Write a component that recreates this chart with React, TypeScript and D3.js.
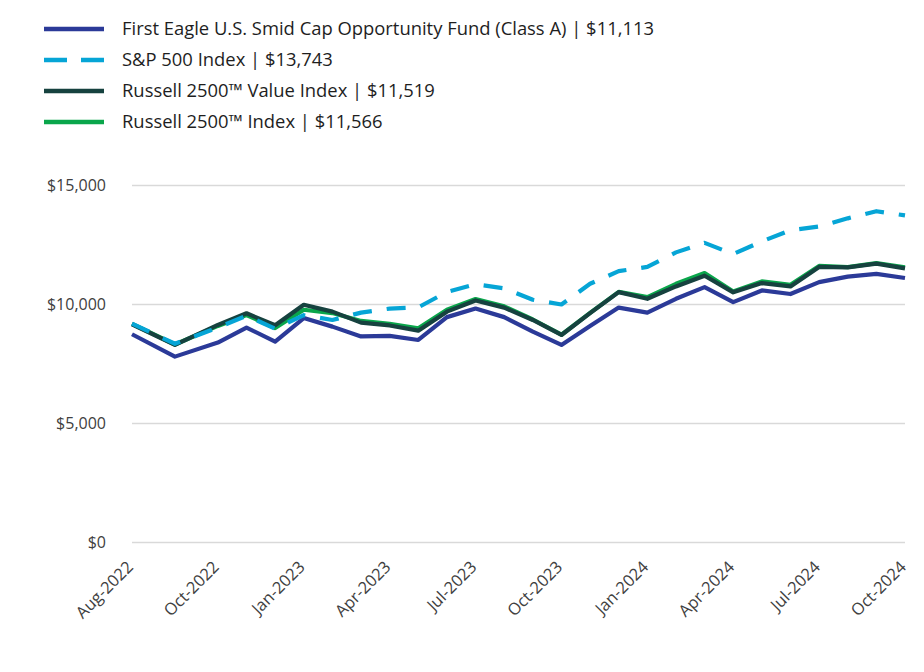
import React from "react";
import * as d3 from "d3";

const months = [
  "Aug-2022","Sep-2022","Oct-2022","Nov-2022","Dec-2022",
  "Jan-2023","Feb-2023","Mar-2023","Apr-2023","May-2023","Jun-2023","Jul-2023","Aug-2023","Sep-2023","Oct-2023","Nov-2023","Dec-2023",
  "Jan-2024","Feb-2024","Mar-2024","Apr-2024","May-2024","Jun-2024","Jul-2024","Aug-2024","Sep-2024","Oct-2024",
];
const tickLabels = ["Aug-2022","Oct-2022","Jan-2023","Apr-2023","Jul-2023","Oct-2023","Jan-2024","Apr-2024","Jul-2024","Oct-2024"];

const fund = [8750,7810,8400,9030,8440,9430,9070,8660,8680,8510,9470,9830,9470,8860,8300,9100,9870,9660,10240,10730,10100,10590,10440,10940,11170,11290,11113];
const sp500 = [9200,8350,9030,9530,8980,9550,9350,9660,9830,9880,10530,10850,10680,10200,10000,10870,11400,11580,12190,12590,12120,12650,13120,13280,13620,13920,13743];
const r2500v = [9170,8300,9140,9630,9130,9990,9700,9240,9120,8900,9700,10170,9870,9350,8720,9640,10520,10240,10760,11210,10510,10900,10760,11580,11560,11720,11519];
const r2500 = [9190,8320,9100,9560,9010,9780,9640,9310,9190,9000,9780,10230,9920,9370,8730,9650,10530,10310,10870,11320,10550,10970,10830,11620,11570,11740,11566];

const yTicks = [0, 5000, 10000, 15000];

const series = [
  { name: "First Eagle U.S. Smid Cap Opportunity Fund (Class A) | $11,113", values: fund, color: "#2B3A98", dash: null },
  { name: "S&P 500 Index | $13,743", values: sp500, color: "#06A5D6", dash: "19 15" },
  { name: "Russell 2500™ Value Index | $11,519", values: r2500v, color: "#16423F", dash: null },
  { name: "Russell 2500™ Index | $11,566", values: r2500, color: "#0AA64B", dash: null },
];

const W = 924, H = 672;
const left = 132, right = 905, top = 185.5, bottom = 542.5;

export default function App() {
  const tickIdx = tickLabels.map((t) => months.indexOf(t));
  const step = (right - left) / (tickIdx.length - 1);
  const x = d3.scaleLinear().domain(tickIdx).range(tickIdx.map((_, i) => left + i * step));
  const y = d3.scaleLinear().domain([0, 15000]).range([bottom, top]);
  const line = d3.line<number>().x((_, i) => x(i)).y((d) => y(d));
  const fmt = (v: number) => "$" + d3.format(",")(v);
  const drawOrder = [3, 2, 0, 1];
  const font = "'Open Sans', sans-serif";
  return (
    <svg width={W} height={H} style={{ position: "absolute", left: 0, top: 0, background: "#fff" }} fontFamily={font}>
      {/* legend */}
      {series.map((s, i) => (
        <g key={s.name} transform={`translate(0, ${29 + i * 31})`}>
          <line x1={44} x2={104} y1={0} y2={0} stroke={s.color} strokeWidth={4.5} strokeDasharray={s.dash ? "23 14" : undefined} />
          <text x={122} y={0} dy="0.35em" fontSize={18.4} fill="#1e1e1e">{s.name}</text>
        </g>
      ))}
      {/* gridlines */}
      {yTicks.map((t) => (
        <g key={t}>
          <line x1={left} x2={right} y1={y(t)} y2={y(t)} stroke="#d9d9d9" strokeWidth={1.5} />
          <text x={106} y={y(t)} dy="0.35em" textAnchor="end" fontSize={16} fill="#404040">{fmt(t)}</text>
        </g>
      ))}
      {/* x labels */}
      {tickLabels.map((t, i) => {
        const px = x(tickIdx[i]);
        return (
          <text key={t} transform={`translate(${px - 2}, ${564}) rotate(-45)`} textAnchor="end" fontSize={16.5} fill="#404040" dy="0.35em">{t}</text>
        );
      })}
      {/* lines */}
      {drawOrder.map((k) => {
        const s = series[k];
        return (
          <path key={s.name} d={line(s.values) || ""} fill="none" stroke={s.color} strokeWidth={4.2}
            strokeDasharray={s.dash || undefined} strokeLinejoin="round" />
        );
      })}
    </svg>
  );
}
